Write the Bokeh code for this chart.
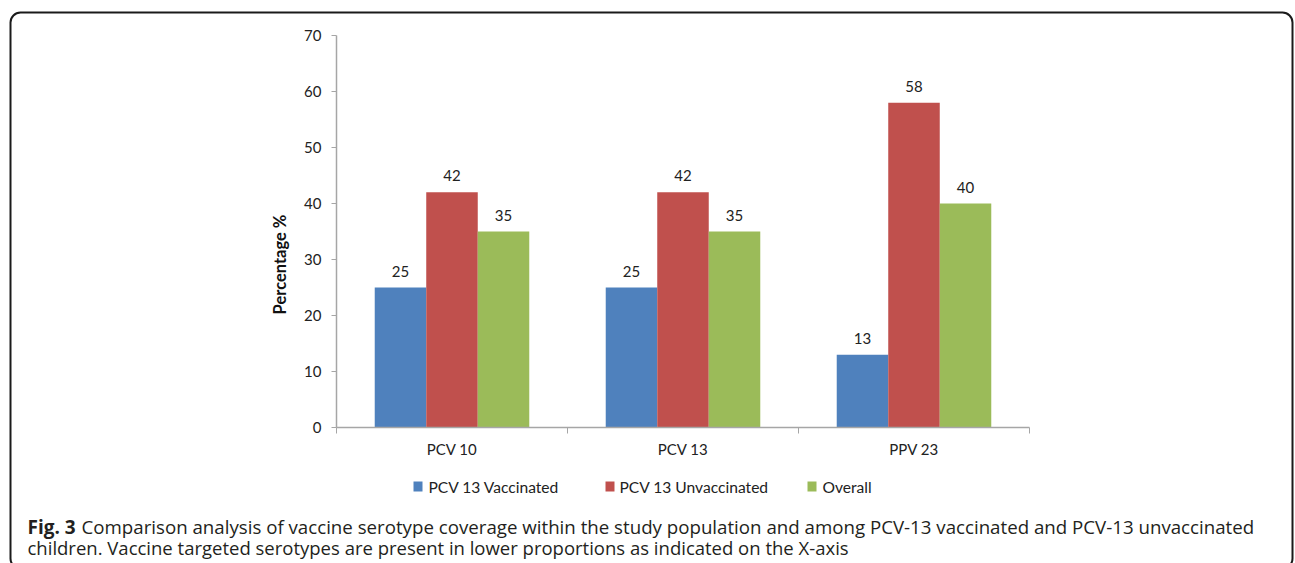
from bokeh.plotting import figure
from bokeh.models import (Range1d, FixedTicker, ColumnDataSource, LabelSet, Label,
                          BoxAnnotation)
from bokeh.core.properties import value
from bokeh.embed import file_html
from bokeh.resources import INLINE

# ---------------- data ----------------
categories = ["PCV 10", "PCV 13", "PPV 23"]
series_names = ["PCV 13 Vaccinated", "PCV 13 Unvaccinated", "Overall"]
vaccinated = [25, 25, 13]
unvaccinated = [42, 42, 58]
overall = [35, 35, 40]
y_ticks = [0, 10, 20, 30, 40, 50, 60, 70]
colors = ["#4F81BD", "#C0504D", "#9BBB59"]
caption_bold = "Fig. 3"
caption_line1 = ("Comparison analysis of vaccine serotype coverage within the study population "
                 "and among PCV-13 vaccinated and PCV-13 unvaccinated")
caption_line2 = ("children. Vaccine targeted serotypes are present in lower proportions as "
                 "indicated on the X-axis")

FONT = "Lato"
CAP_FONT = "Open Sans"
AX = "#A6A6A6"
W, H = 1295, 563

# plot-area placement in pixels (frame covers the whole canvas)
PX0, PX1 = 336, 1029      # x of category axis start / end
PY0, PY1 = 427, 35        # y of value 0 / value 70
ncat = len(categories)
ymax = 70
xs = (PX1 - PX0) / ncat
ys = (PY0 - PY1) / ymax

p = figure(width=W, height=H, output_backend="svg", toolbar_location=None,
           x_range=Range1d(-PX0 / xs, ncat + (W - PX1) / xs),
           y_range=Range1d(-(H - PY0) / ys, ymax + PY1 / ys),
           min_border=0, min_border_left=0, min_border_right=0,
           min_border_top=0, min_border_bottom=0)
p.outline_line_color = None
p.xgrid.visible = False
p.ygrid.visible = False
p.background_fill_color = "white"
p.border_fill_color = "white"

centers = [i + 0.5 for i in range(ncat)]
bw = 0.223
offsets = [-bw, 0.0, bw]
all_vals = [vaccinated, unvaccinated, overall]
for k, vals in enumerate(all_vals):
    src = ColumnDataSource(dict(x=[c + offsets[k] for c in centers], top=vals,
                                lab=[str(v) for v in vals]))
    p.vbar(x="x", top="top", width=bw, bottom=0, source=src,
           fill_color=colors[k], line_color=None)
    p.add_layout(LabelSet(x="x", y="top", text="lab", source=src, y_offset=11,
                          text_align="center", text_baseline="alphabetic",
                          text_font=value(FONT), text_font_size=value("15px"),
                          text_color="#222222"))

# x axis
xa = p.xaxis[0]
xa.fixed_location = 0
xa.bounds = (0, ncat)
xa.ticker = FixedTicker(ticks=centers, minor_ticks=list(range(ncat + 1)))
xa.major_label_overrides = {c: n for c, n in zip(centers, categories)}
xa.major_tick_line_color = None
xa.minor_tick_line_color = AX
xa.minor_tick_out = 6
xa.minor_tick_in = 0
xa.axis_line_color = AX
xa.axis_line_width = 1.5
xa.major_label_text_font = FONT
xa.major_label_text_font_size = "15px"
xa.major_label_text_color = "#222222"
xa.major_label_standoff = 6

# y axis
ya = p.yaxis[0]
ya.fixed_location = 0
ya.bounds = (0, ymax)
ya.ticker = FixedTicker(ticks=y_ticks)
ya.minor_tick_line_color = None
ya.major_tick_line_color = AX
ya.major_tick_out = 5
ya.major_tick_in = 0
ya.axis_line_color = AX
ya.axis_line_width = 1.5
ya.major_label_text_font = FONT
ya.major_label_text_font_size = "15px"
ya.major_label_text_color = "#222222"
ya.major_label_standoff = 10


def sy(py):
    return H - py


# y axis title
p.add_layout(Label(x=279, y=sy(264), x_units="screen", y_units="screen", text="Percentage %",
                   angle=1.5707963, text_align="center", text_baseline="alphabetic",
                   text_font=FONT, text_font_style="bold", text_font_size="16.5px",
                   text_color="#111111"))

# legend (manual)
leg_sq_x = [413, 605, 807]
leg_tx_x = [428, 619, 822]
for k in range(3):
    p.add_layout(BoxAnnotation(left=leg_sq_x[k], right=leg_sq_x[k] + 9,
                               top=sy(481), bottom=sy(491),
                               left_units="screen", right_units="screen",
                               top_units="screen", bottom_units="screen",
                               fill_color=colors[k], fill_alpha=1, line_color=None))
    p.add_layout(Label(x=leg_tx_x[k], y=sy(486), x_units="screen", y_units="screen",
                       text=series_names[k], text_baseline="middle", text_font=FONT,
                       text_font_size="15.6px", text_color="#222222"))

# caption
p.add_layout(Label(x=27, y=sy(526), x_units="screen", y_units="screen", text=caption_bold,
                   text_font=CAP_FONT, text_font_style="bold", text_font_size="19px",
                   text_baseline="alphabetic", text_color="#231F20"))
p.add_layout(Label(x=81, y=sy(526), x_units="screen", y_units="screen", text=caption_line1,
                   text_font=CAP_FONT, text_font_size="18.7px",
                   text_baseline="alphabetic", text_color="#231F20"))
p.add_layout(Label(x=27, y=sy(547), x_units="screen", y_units="screen", text=caption_line2,
                   text_font=CAP_FONT, text_font_size="18.5px",
                   text_baseline="alphabetic", text_color="#231F20"))

# rounded frame around everything
p.add_layout(BoxAnnotation(left=10, right=1292, top=sy(12), bottom=sy(568),
                           left_units="screen", right_units="screen",
                           top_units="screen", bottom_units="screen",
                           fill_alpha=0, line_color="#1A1A1A", line_alpha=1.0,
                           line_width=2, border_radius=10))

open("out.html", "w").write(file_html(p, INLINE))
